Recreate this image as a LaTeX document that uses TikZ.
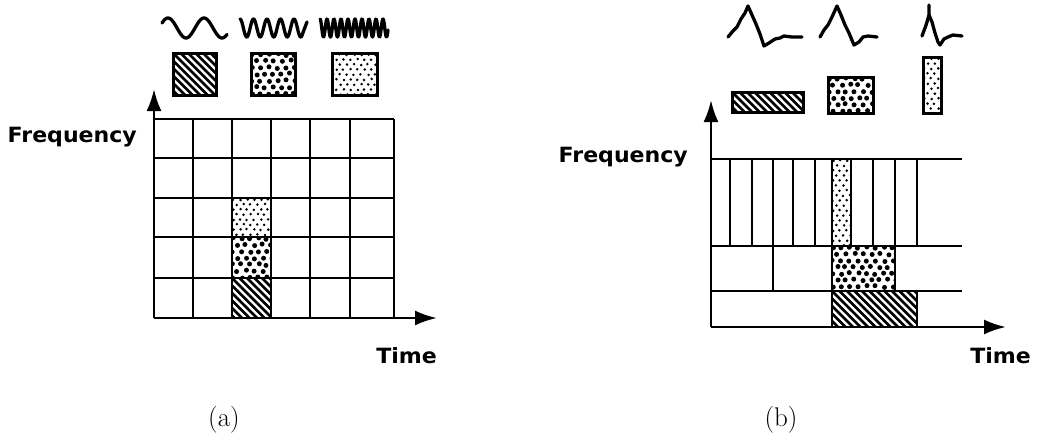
\documentclass[tikz,border=0pt]{standalone}
\usepackage{fontspec}
\newfontfamily\lblfont{DejaVu Sans}[BoldFont={DejaVu Sans Bold}]
\usetikzlibrary{arrows.meta}
\newcommand\hatchrect[4]{%
  \begin{scope}
    \clip (#1,#2) rectangle (#3,#4);
    \foreach \k in {-60,-52.5,...,100} \draw[hatchline] ({#1+\k},#2) -- ++(60,60);
  \end{scope}}
\newcommand\dotpat[7]{%
  \begin{scope}
    \clip (#1,#2) rectangle (#3,#4);
    \pgfmathtruncatemacro\nxx{(#3-#1)/#5+1}
    \pgfmathtruncatemacro\nyy{(#4-#2)/#6+1}
    \foreach \i in {0,...,\nxx}{
      \foreach \j in {0,...,\nyy}{
        \pgfmathsetmacro\px{#1+1+\i*#5+mod(\j,2)*#5/2+rand*#7*0.5}
        \pgfmathsetmacro\py{#2+1.5+\j*#6+rand*#7*0.4}
        \fill (\px,\py) circle (#7pt);
      }}
  \end{scope}}
\newcommand\coarsepat[4]{\dotpat{#1}{#2}{#3}{#4}{8.5}{6.5}{2.5}}
\newcommand\finepat[4]{\dotpat{#1}{#2}{#3}{#4}{7}{5}{1.4}}
\tikzset{
  hatchline/.style={line width=2.6pt},
  gridline/.style={line width=2.5pt},
  boxline/.style={line width=3pt},
  axis/.style={line width=2.6pt, -{Latex[length=22pt,width=15pt]}},
  wave/.style={line width=3.3pt, line join=round, line cap=round},
  axlabel/.style={font=\lblfont\bfseries\fontsize{21}{21}\selectfont, xscale=1.05, inner sep=0pt},
  caplabel/.style={font=\fontsize{27}{27}\selectfont, inner sep=0pt}
}
\begin{document}
\begin{tikzpicture}[x=1pt, y=-1pt]
\useasboundingbox (0,0) rectangle (1039,440);
\pgfmathsetseed{7}
% ================= (a) =================
% waves
\draw[wave] plot[domain=162:227, samples=80] (\x, {28-10*cos(10*(\x-168))});
\draw[wave] plot[domain=240:303, samples=120] (\x, {28-9*cos(26.667*(\x-240))}) -- (307,22);
\draw[wave] plot[domain=320:388, samples=240] (\x, {28-9*cos(51.43*(\x-320))});
% icons
\hatchrect{173}{53}{216}{95}
\draw[boxline] (173,53) rectangle (216,95);
\coarsepat{251}{53}{295}{95}
\draw[boxline] (251,53) rectangle (295,95);
\finepat{332}{53}{377}{95}
\draw[boxline] (332,53) rectangle (377,95);
% filled cells
\finepat{232}{198}{271}{237}
\coarsepat{232}{237}{271}{278}
\hatchrect{232}{278}{271}{318}
% grid
\foreach \xx in {193,232,271,310,350,394} \draw[gridline] (\xx,119) -- (\xx,318);
\foreach \yy in {119,158,198,237,278} \draw[gridline] (154,\yy) -- (394,\yy);
% axes
\coordinate (oa) at (154,318);
\coordinate (ya) at (154,89);
\coordinate (xa) at (437,318);
\draw[axis] (oa) -- (ya);
\draw[axis] (oa) -- (xa);
\node[axlabel, anchor=base east] (fa) at (137,142) {Frequency};
\node[axlabel, anchor=base east] (ta) at (437,363) {Time};
\node[caplabel] (la) at (224,420) {(a)};
% ================= (b) =================
% wavelets
\draw[wave] plot coordinates {(728,37) (733,31) (737,27) (741,19) (745,13) (748,6) (752,15) (756,24) (760,34) (764,46) (769,43) (775,39) (780,38) (784,36) (792,37) (802,37)};
\draw[wave] plot coordinates {(820,37) (824,30) (828,25) (832,17) (837,6) (841,15) (845,25) (849,33) (854,45) (859,42) (863,37) (868,36) (877,37)};
\draw[wave] plot coordinates {(922,36) (925,28) (927,22) (929,15) (929,5)};
\draw[wave] plot coordinates {(929,15) (932,22) (935,33) (938,42) (940,45) (944,39) (948,37) (953,35) (962,36)};
% icons
\hatchrect{732}{92}{803}{112}
\draw[boxline] (732,92) rectangle (803,112);
\coarsepat{828}{77}{873}{113}
\draw[boxline] (828,77) rectangle (873,113);
\finepat{923}{57}{941}{113}
\draw[boxline] (923,57) rectangle (941,113);
% filled tiles
\finepat{832}{159}{851}{246}
\coarsepat{832}{246}{895}{291}
\hatchrect{832}{291}{917}{327}
% tiling lines
\foreach \yy in {159,246,291} \draw[gridline] (711,\yy) -- (962,\yy);
\foreach \xx in {730,752,773,793,815,832,851,873,895,917} \draw[gridline] (\xx,159) -- (\xx,246);
\foreach \xx in {773,832,895} \draw[gridline] (\xx,246) -- (\xx,291);
\foreach \xx in {832,917} \draw[gridline] (\xx,291) -- (\xx,327);
% axes
\coordinate (ob) at (711,327);
\coordinate (yb) at (711,100);
\coordinate (xb) at (1006,327);
\draw[axis] (ob) -- (yb);
\draw[axis] (ob) -- (xb);
\node[axlabel, anchor=base east] (fb) at (688,162) {Frequency};
\node[axlabel, anchor=base east] (tb) at (1031,363) {Time};
\node[caplabel] (lb) at (781,420) {(b)};
\end{tikzpicture}
\end{document}
